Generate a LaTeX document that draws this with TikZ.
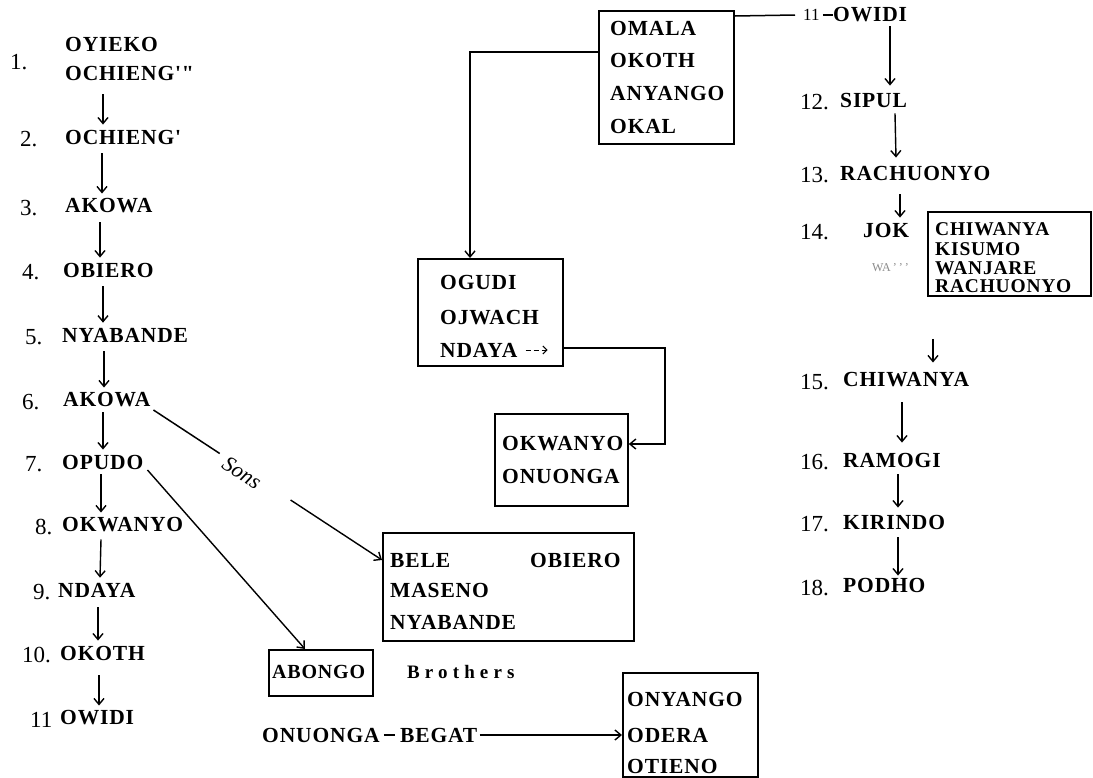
\documentclass[tikz,border=0pt]{standalone}
\usepackage{fontspec}
\setmainfont{Liberation Serif}
\newfontfamily\tw{Liberation Serif}[LetterSpace=4]
\newfontfamily\twb{Liberation Serif}[LetterSpace=27]
\usetikzlibrary{arrows.meta,calc}
\begin{document}
\begin{tikzpicture}[x=1pt,y=-1pt,
  nm/.style={font=\tw\bfseries\fontsize{21.5}{23}\selectfont, inner sep=0pt, anchor=west},
  sm/.style={font=\tw\bfseries\fontsize{19.5}{21}\selectfont, inner sep=0pt, anchor=west},
  num/.style={font=\fontsize{23}{25}\selectfont, inner sep=0pt, anchor=west},
  arr/.style={line width=1.4pt, -{Straight Barb[length=6pt,width=10pt,line width=1.4pt]}},
  ln/.style={line width=1.5pt},
  boxst/.style={draw, line width=1.8pt, inner sep=0pt, anchor=north west}]
\useasboundingbox (0,0) rectangle (1093,777);
\fill[white] (0,0) rectangle (1093,777);

% ---------- left column ----------
\node[num] (k1) at (10,62) {1.};
\node[nm] (n1a) at (65,44) {OYIEKO};
\node[nm] (n1b) at (65,73) {OCHIENG'"};
\node[num] (k2) at (20,139) {2.};   \node[nm] (n2) at (65,137) {OCHIENG'};
\node[num] (k3) at (20,208) {3.};   \node[nm] (n3) at (65,206) {AKOWA};
\node[num] (k4) at (22,272) {4.};   \node[nm] (n4) at (63,270) {OBIERO};
\node[num] (k5) at (25,337) {5.};   \node[nm] (n5) at (62,335) {NYABANDE};
\node[num] (k6) at (22,402) {6.};   \node[nm] (n6) at (63,400) {AKOWA};
\node[num] (k7) at (25,464) {7.};   \node[nm] (n7) at (62,462) {OPUDO};
\node[num] (k8) at (35,527) {8.};   \node[nm] (n8) at (62,525) {OKWANYO};
\node[num] (k9) at (33,592) {9.};   \node[nm] (n9) at (58,590) {NDAYA};
\node[num] (k10) at (22,655) {10.}; \node[nm] (n10) at (60,653) {OKOTH};
\node[num] (k11) at (30,720) {11};  \node[nm] (n11) at (60,718) {OWIDI};

\draw[arr] ([xshift=38pt,yshift=-14pt]n1b.south west) -- ([xshift=38pt,yshift=5pt]n2.north west);
\draw[arr] ([xshift=37pt,yshift=-9pt]n2.south west) -- ([xshift=37pt,yshift=5pt]n3.north west);
\draw[arr] ([xshift=35pt,yshift=-9pt]n3.south west) -- ([xshift=37pt,yshift=5pt]n4.north west);
\draw[arr] ([xshift=40pt,yshift=-9pt]n4.south west) -- ([xshift=41pt,yshift=5pt]n5.north west);
\draw[arr] ([xshift=42pt,yshift=-9pt]n5.south west) -- ([xshift=41pt,yshift=5pt]n6.north west);
\draw[arr] ([xshift=40pt,yshift=-5pt]n6.south west) -- ([xshift=41pt,yshift=5pt]n7.north west);
\draw[arr] ([xshift=39pt,yshift=-5pt]n7.south west) -- ([xshift=39pt,yshift=5pt]n8.north west);
\draw[arr] ([xshift=39pt,yshift=-7pt]n8.south west) -- ([xshift=42pt,yshift=5pt]n9.north west);
\draw[arr] ([xshift=40pt,yshift=-10pt]n9.south west) -- ([xshift=38pt,yshift=5pt]n10.north west);
\draw[arr] ([xshift=39pt,yshift=-15pt]n10.south west) -- ([xshift=39pt,yshift=5pt]n11.north west);

% ---------- middle boxes ----------
\node[boxst, minimum width=135pt, minimum height=133pt] (bxom) at (598,10) {};
\node[nm] (om1) at (610,28) {OMALA};
\node[nm] (om2) at (610,60) {OKOTH};
\node[nm] (om3) at (610,93) {ANYANGO};
\node[nm] (om4) at (610,126) {OKAL};

\node[boxst, minimum width=145pt, minimum height=107pt] (bxog) at (417,258) {};
\node[nm] (og1) at (440,282) {OGUDI};
\node[nm] (og2) at (440,318) {OJWACH};
\node[nm] (og3) at (440,350) {NDAYA};
\draw[line width=1pt, dash pattern=on 5pt off 3pt, -{Straight Barb[length=4pt,width=8pt,line width=1pt]}]
  ([xshift=8pt]og3.east) -- ([xshift=30pt]og3.east);

\node[boxst, minimum width=133pt, minimum height=92pt] (bxok) at (494,413) {};
\node[nm] (ok1) at (502,444) {OKWANYO};
\node[nm] (ok2) at (502,476) {ONUONGA};

\draw[arr] ([yshift=-42pt]bxom.north west) -| ([xshift=53pt]bxog.north west);
\draw[arr] ([yshift=-90pt]bxog.north east) -- ++(101,0) |- ([yshift=-31pt]bxok.north east);

% ---------- right column ----------
\node[font=\fontsize{17}{19}\selectfont, inner sep=0pt, anchor=west] (k11b) at (803,15) {11};
\node[nm] (r11) at (833,15) {OWIDI};
\draw[ln] ([yshift=-6pt]bxom.north east) -- ([xshift=-8pt]k11b.west);
\draw[ln] ([xshift=3pt]k11b.east) -- (r11.west);

\node[num] (k12) at (800,102) {12.}; \node[nm] (r12) at (840,100) {SIPUL};
\node[num] (k13) at (800,175) {13.}; \node[nm] (r13) at (840,173) {RACHUONYO};
\node[num] (k14) at (800,232) {14.}; \node[nm] (r14) at (863,230) {JOK};
\node[font=\fontsize{12}{14}\selectfont, text=black!45, inner sep=0pt, anchor=west] (ghost) at (872,268) {WA\,'\,'\,'};

\node[boxst, minimum width=163pt, minimum height=84pt] (bxch) at (927,211) {};
\node[sm] (ch1) at (935,229) {CHIWANYA};
\node[sm] (ch2) at (935,249) {KISUMO};
\node[sm] (ch3) at (935,268) {WANJARE};
\node[sm] (ch4) at (935,286) {RACHUONYO};

\node[num] (k15) at (800,382) {15.}; \node[nm] (r15) at (843,380) {CHIWANYA};
\node[num] (k16) at (800,462) {16.}; \node[nm] (r16) at (843,460) {RAMOGI};
\node[num] (k17) at (800,524) {17.}; \node[nm] (r17) at (843,522) {KIRINDO};
\node[num] (k18) at (800,588) {18.}; \node[nm] (r18) at (843,585) {PODHO};

\draw[arr] ([xshift=57pt,yshift=-4pt]r11.south west) -- ([xshift=50pt,yshift=7pt]r12.north west);
\draw[arr] ([xshift=55pt,yshift=-6pt]r12.south west) -- ([xshift=56pt,yshift=8pt]r13.north west);
\draw[arr] ([xshift=60pt,yshift=-14pt]r13.south west) -- ([xshift=37pt,yshift=5pt]r14.north west);
\draw[arr] ([xshift=6pt,yshift=-42pt]bxch.south west) -- ([xshift=90pt,yshift=10pt]r15.north west);
\draw[arr] ([xshift=59pt,yshift=-15pt]r15.south west) -- ([xshift=59pt,yshift=10pt]r16.north west);
\draw[arr] ([xshift=55pt,yshift=-7pt]r16.south west) -- ([xshift=55pt,yshift=7pt]r17.north west);
\draw[arr] ([xshift=55pt,yshift=-8pt]r17.south west) -- ([xshift=55pt,yshift=2pt]r18.north west);

% ---------- sons / brothers ----------
\node[boxst, minimum width=251pt, minimum height=108pt] (bxbe) at (382,532) {};
\node[nm] (be1) at (390,560) {BELE};
\node[nm] (be2) at (530,560) {OBIERO};
\node[nm] (be3) at (390,590) {MASENO};
\node[nm] (be4) at (390,622) {NYABANDE};

\node[boxst, minimum width=104pt, minimum height=46pt] (bxab) at (268,649) {};
\node[nm, font=\tw\bfseries\fontsize{20}{22}\selectfont] (ab) at (272,672) {ABONGO};
\node[font=\twb\bfseries\fontsize{19}{21}\selectfont, inner sep=0pt, anchor=west] (bro) at (407,672) {Brothers};

\coordinate (sA) at ([xshift=3pt,yshift=-10pt]n6.east);
\coordinate (sB) at ([yshift=-28pt]bxbe.north west);
\draw[ln] (sA) -- ($(sA)!0.29!(sB)$);
\draw[arr] ($(sA)!0.60!(sB)$) -- (sB);
\node[font=\itshape\fontsize{22}{24}\selectfont, inner sep=0pt, rotate=-33] (sons) at (242,473) {Sons};
\draw[arr] ([xshift=4pt,yshift=-8pt]n7.east) -- ([xshift=37pt]bxab.north west);

% ---------- bottom ----------
\node[nm] (onu) at (262,735) {ONUONGA};
\node[nm] (beg) at (400,735) {BEGAT};
\draw[ln] ([xshift=4pt]onu.east) -- ([xshift=-5pt]beg.west);
\node[boxst, minimum width=135pt, minimum height=104pt] (bxon) at (622,672) {};
\node[nm] (on1) at (627,699) {ONYANGO};
\node[nm] (on2) at (627,735) {ODERA};
\node[nm] (on3) at (627,766) {OTIENO};
\draw[arr] ([xshift=2pt]beg.east) -- (beg.east -| bxon.west);
\end{tikzpicture}
\end{document}
